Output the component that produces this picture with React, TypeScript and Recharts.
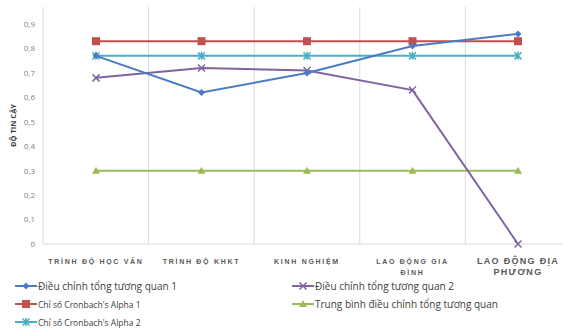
import { LineChart, Line, XAxis, YAxis, CartesianGrid } from 'recharts'

const categories = [
  'TRÌNH ĐỘ HỌC VẤN',
  'TRÌNH ĐỘ KHKT',
  'KINH NGHIỆM',
  'LAO ĐỘNG GIA ĐÌNH',
  'LAO ĐỘNG ĐỊA PHƯƠNG',
]
const tongTuongQuan1 = [0.77, 0.62, 0.7, 0.81, 0.86]
const tongTuongQuan2 = [0.68, 0.72, 0.71, 0.63, 0]
const cronbach1 = [0.83, 0.83, 0.83, 0.83, 0.83]
const trungBinh = [0.3, 0.3, 0.3, 0.3, 0.3]
const cronbach2 = [0.77, 0.77, 0.77, 0.77, 0.77]
const yTicks = [0, 0.1, 0.2, 0.3, 0.4, 0.5, 0.6, 0.7, 0.8, 0.9]

const BLUE = '#4a7cc4'
const PURPLE = '#8064a2'
const RED = '#c0504d'
const GREEN = '#9bbb59'
const CYAN = '#4bacc6'

const data = categories.map((name, i) => ({
  name,
  s1: tongTuongQuan1[i],
  s2: tongTuongQuan2[i],
  c1: cronbach1[i],
  tb: trungBinh[i],
  c2: cronbach2[i],
}))

type Shape = 'diamond' | 'cross' | 'square' | 'triangle' | 'star'

function Marker({ x, y, shape, color }: { x: number; y: number; shape: Shape; color: string }) {
  if (shape === 'diamond')
    return <path d={`M${x},${y - 3.5}L${x + 3.5},${y}L${x},${y + 3.5}L${x - 3.5},${y}Z`} fill={color} />
  if (shape === 'square') return <rect x={x - 4} y={y - 4} width={8} height={8} fill={color} />
  if (shape === 'triangle')
    return <path d={`M${x},${y - 4}L${x + 4},${y + 3}L${x - 4},${y + 3}Z`} fill={color} />
  if (shape === 'cross')
    return (
      <path d={`M${x - 3.5},${y - 3.5}L${x + 3.5},${y + 3.5}M${x - 3.5},${y + 3.5}L${x + 3.5},${y - 3.5}`} stroke={color} strokeWidth={1.5} />
    )
  return (
    <path
      d={`M${x - 3.5},${y - 3.5}L${x + 3.5},${y + 3.5}M${x - 3.5},${y + 3.5}L${x + 3.5},${y - 3.5}M${x},${y - 4}L${x},${y + 4}`}
      stroke={color}
      strokeWidth={1.5}
    />
  )
}

const dotOf = (shape: Shape, color: string) => (p: any) => (
  <Marker key={`${shape}-${p.index}`} x={p.cx} y={p.cy} shape={shape} color={color} />
)

function CategoryTick({ x, y, payload, index }: any) {
  const big = index === 4
  const lines =
    index === 3 ? ['LAO ĐỘNG GIA', 'ĐÌNH'] : index === 4 ? ['LAO ĐỘNG ĐỊA', 'PHƯƠNG'] : [payload.value]
  return (
    <text
      x={x}
      y={y + 12}
      textAnchor="middle"
      fill="#595959"
      fontSize={big ? 9 : 7}
      fontWeight={700}
      letterSpacing={big ? 1.3 : 1.7}
      fontFamily="Arial, 'Liberation Sans', sans-serif"
    >
      {lines.map((l, i) => (
        <tspan key={i} x={x} dy={i === 0 ? 0 : 11}>
          {l}
        </tspan>
      ))}
    </text>
  )
}

function LegendItem({ label, color, shape, fontSize }: { label: string; color: string; shape: Shape; fontSize: number }) {
  return (
    <div style={{ display: 'flex', alignItems: 'center', height: 18 }}>
      <svg width={22} height={10} style={{ flex: 'none' }}>
        <line x1={0} y1={5} x2={22} y2={5} stroke={color} strokeWidth={2} />
        <Marker x={11} y={5} shape={shape} color={color} />
      </svg>
      <span style={{ fontSize, color: '#404040', marginLeft: 1, whiteSpace: 'nowrap' }}>{label}</span>
    </div>
  )
}

export default function App() {
  return (
    <div style={{ width: 563, height: 330, overflow: 'hidden', position: 'relative', background: '#fff', fontFamily: "'Open Sans', Arial, sans-serif" }}>
      <style>{`body{margin:0}`}</style>
      <LineChart width={575} height={280} data={data} margin={{ top: 7, right: 4, left: 13, bottom: 0 }}>
        <CartesianGrid
          horizontal={false}
          stroke="#d9d9d9"
          verticalCoordinatesGenerator={({ offset }: any) =>
            [0, 1, 2, 3, 4, 5].map((i) => offset.left + (i * offset.width) / 5)
          }
        />
        <XAxis
          dataKey="name"
          height={36}
          padding={{ left: 53, right: 53 }}
          tick={<CategoryTick />}
          tickLine={false}
          axisLine={{ stroke: '#d9d9d9' }}
          interval={0}
        />
        <YAxis
          width={30}
          domain={[0, 0.97]}
          ticks={yTicks}
          tickFormatter={(v: number) => String(v).replace('.', ',')}
          tick={{ fontSize: 8, fill: '#7f7f7f' }}
          tickLine={false}
          axisLine={false}
          label={{
            content: ({ viewBox }: any) => (
              <text
                x={viewBox.x}
                y={viewBox.y + viewBox.height / 2}
                transform={`rotate(-90 ${viewBox.x} ${viewBox.y + viewBox.height / 2})`}
                textAnchor="middle"
                dominantBaseline="central"
                fontSize={7.5}
                fontWeight={700}
                fill="#404040"
              >
                ĐỘ TIN CẬY
              </text>
            ),
          }}
        />
        <Line dataKey="tb" stroke={GREEN} strokeWidth={2} dot={dotOf('triangle', GREEN)} isAnimationActive={false} />
        <Line dataKey="c2" stroke={CYAN} strokeWidth={2} dot={dotOf('star', CYAN)} isAnimationActive={false} />
        <Line dataKey="c1" stroke={RED} strokeWidth={2} dot={dotOf('square', RED)} isAnimationActive={false} />
        <Line dataKey="s2" stroke={PURPLE} strokeWidth={2} dot={dotOf('cross', PURPLE)} isAnimationActive={false} />
        <Line dataKey="s1" stroke={BLUE} strokeWidth={2} dot={dotOf('diamond', BLUE)} isAnimationActive={false} />
      </LineChart>
      <div style={{ position: 'absolute', left: 15, top: 277, display: 'flex' }}>
        <div style={{ width: 277 }}>
          <LegendItem label="Điều chỉnh tổng tương quan 1" color={BLUE} shape="diamond" fontSize={10} />
          <LegendItem label="Chỉ số Cronbach's Alpha 1" color={RED} shape="square" fontSize={8.5} />
          <LegendItem label="Chỉ số Cronbach's Alpha 2" color={CYAN} shape="star" fontSize={8.5} />
        </div>
        <div>
          <LegendItem label="Điều chỉnh tổng tương quan 2" color={PURPLE} shape="cross" fontSize={10} />
          <LegendItem label="Trung bình điều chỉnh tổng tương quan" color={GREEN} shape="triangle" fontSize={10} />
        </div>
      </div>
    </div>
  )
}
